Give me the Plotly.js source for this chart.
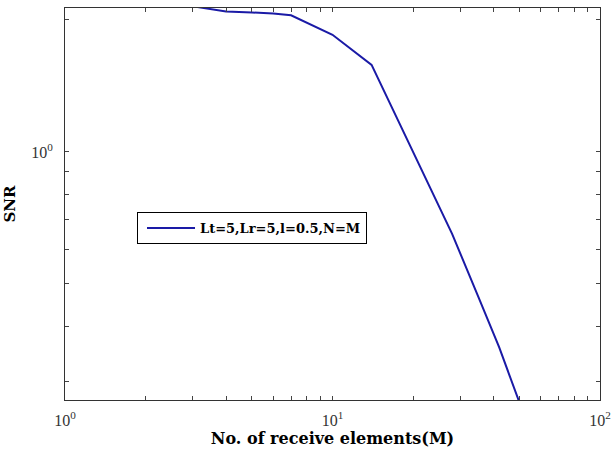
<!DOCTYPE html>
<html>
<head>
<meta charset="utf-8">
<script src="https://cdn.plot.ly/plotly-3.0.1.min.js"></script>
<style>html,body{margin:0;padding:0;background:#fff;}#chart{width:612px;height:459px;}</style>
</head>
<body>
<div id="chart"></div>
<script>
const M   = [3, 4, 5, 6, 7, 10, 14, 20, 28, 35, 42, 50];
const SNR = [2.15, 2.09, 2.08, 2.07, 2.05, 1.85, 1.58, 1.005, 0.65, 0.469, 0.358, 0.268];
const seriesName = 'Lt=5,Lr=5,l=0.5,N=M';

const xTickVals = [1,2,3,4,5,6,7,8,9,10,20,30,40,50,60,70,80,90,100];
const xTickText = ['10<sup>0</sup>','','','','','','','','','10<sup>1</sup>','','','','','','','','','10<sup>2</sup>'];
const yTickVals = [0.3,0.4,0.5,0.6,0.7,0.8,0.9,1,2];
const yTickText = ['','','','','','','','10<sup>0</sup>',''];

const serif = 'Liberation Serif, Times New Roman, serif';
const wideSerif = 'DejaVu Serif, serif';

const trace = {
  x: M, y: SNR, type: 'scatter', mode: 'lines', name: seriesName,
  line: {color: '#1a1aa6', width: 2}
};

const layout = {
  width: 612, height: 459,
  margin: {l: 65, r: 12, t: 8, b: 59},
  paper_bgcolor: '#fff', plot_bgcolor: '#fff',
  showlegend: true,
  legend: {
    x: 0.1346, y: 0.4796, xanchor: 'left', yanchor: 'top',
    bgcolor: '#fff', bordercolor: '#000', borderwidth: 1,
    itemwidth: 52,
    font: {family: wideSerif, size: 13, color: '#000', weight: 'bold'}
  },
  xaxis: {
    type: 'log', range: [0, 2],
    tickmode: 'array', tickvals: xTickVals, ticktext: xTickText,
    ticks: 'inside', ticklen: 4, tickcolor: '#444', tickwidth: 1,
    showline: true, linecolor: '#333', linewidth: 1, mirror: 'ticks',
    showgrid: false, zeroline: false,
    ticklabelstandoff: 6,
    tickfont: {family: serif, size: 16, color: '#333'},
    title: {text: 'No. of receive elements(M)', font: {family: wideSerif, size: 16, color: '#000', weight: 'bold'}, standoff: 2}
  },
  yaxis: {
    type: 'log', range: [Math.log10(0.2716), Math.log10(2.13)],
    tickmode: 'array', tickvals: yTickVals, ticktext: yTickText,
    ticks: 'inside', ticklen: 4, tickcolor: '#444', tickwidth: 1,
    showline: true, linecolor: '#333', linewidth: 1, mirror: 'ticks',
    showgrid: false, zeroline: false,
    ticklabelstandoff: 8,
    tickfont: {family: serif, size: 16, color: '#333'},
    title: {text: 'SNR', font: {family: wideSerif, size: 15, color: '#000', weight: 'bold'}, standoff: 11}
  }
};

Plotly.newPlot('chart', [trace], layout, {staticPlot: true, displayModeBar: false}).then(function (gd) {
  // lengthen the legend line sample to match the reference
  gd.querySelectorAll('.legend .legendlines path').forEach(function (p) {
    p.setAttribute('d', 'M9,0h48');
  });
});
</script>
</body>
</html>
